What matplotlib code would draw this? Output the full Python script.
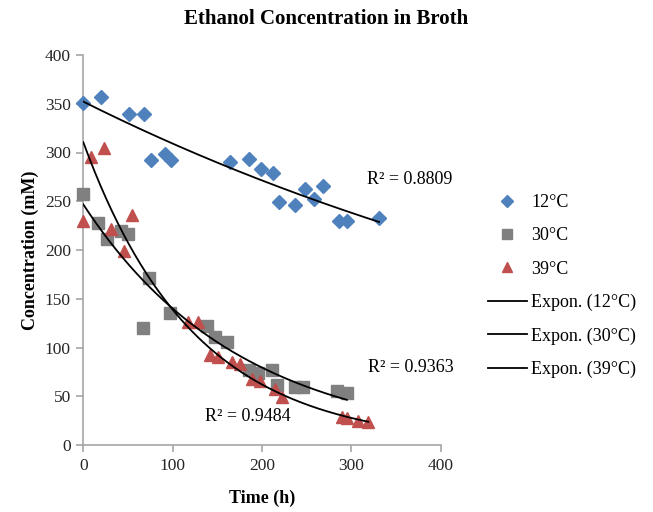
import numpy as np
import matplotlib
matplotlib.use("Agg")
import matplotlib.pyplot as plt
from matplotlib.lines import Line2D

plt.rcParams['font.family'] = ['Liberation Serif', 'DejaVu Serif']

# 12 °C
t12 = [0, 20, 51, 68, 75.5, 91.5, 98, 164, 185.6, 199, 212.4, 219, 237, 248, 258, 268, 286, 295, 331]
c12 = [351, 357, 340, 340, 292, 298.5, 292, 290, 293, 283, 279, 249, 246, 262.6, 252, 265.6, 230, 230, 233]
# 30 °C
t30 = [0, 17, 27, 42.5, 50, 74, 67, 97, 139, 147.5, 161, 186, 196, 211, 217, 237, 246, 284, 295]
c30 = [257, 228, 211, 219, 216, 171, 120, 135, 122, 111, 106, 77, 74, 77, 61.5, 60, 60, 55, 53]
# 39 °C
t39 = [0, 9, 23.5, 31, 45.6, 55, 117.6, 128.8, 142, 150.5, 166, 175.5, 188.6, 198, 214, 222, 289, 295, 308, 319]
c39 = [230, 295.7, 305, 222, 199.3, 236, 126.5, 126.5, 92.3, 90.6, 85.4, 83, 67.4, 65.6, 57, 49.6, 29, 27.4, 24.6, 24]

series_labels = ['12°C', '30°C', '39°C']
trend_labels = ['Expon. (12°C)', 'Expon. (30°C)', 'Expon. (39°C)']
r2_texts = ['R² = 0.8809', 'R² = 0.9363', 'R² = 0.9484']

colors = ['#4F81BD', '#808080', '#C0504D']
markers = ['D', 's', '^']
msizes = [7.5, 8, 9]

fig = plt.figure(figsize=(6.53, 5.12), dpi=100)
ax = fig.add_axes([83.3/653, 1-445/512, (440.7-83.3)/653, (445-55)/512])

handles = []
for t, c, col, m, ms, lab in zip([t12, t30, t39], [c12, c30, c39], colors, markers, msizes, series_labels):
    ax.plot(t, c, linestyle='none', marker=m, ms=ms, color=col, mec=col, zorder=3, clip_on=False)
    handles.append(Line2D([], [], linestyle='none', marker=m, ms=ms*0.85, color=col, mec=col, label=lab))

for t, c, lab in zip([t12, t30, t39], [c12, c30, c39], trend_labels):
    t = np.asarray(t, float); c = np.asarray(c, float)
    b, lna = np.polyfit(t, np.log(c), 1)
    tt = np.linspace(t.min(), t.max(), 200)
    ax.plot(tt, np.exp(lna) * np.exp(b * tt), color='black', lw=1.3, zorder=4)
    handles.append(Line2D([], [], color='black', lw=1.3, label=lab))

ax.text(318, 272, r2_texts[0], fontsize=13, va='center', ha='left')
ax.text(319, 79, r2_texts[1], fontsize=13, va='center', ha='left')
ax.text(136, 29, r2_texts[2], fontsize=13, va='center', ha='left')

ax.set_xlim(0, 400)
ax.set_ylim(0, 400)
ax.set_xticks(range(0, 401, 100))
ax.set_yticks(range(0, 401, 50))
for s in ['top', 'right']:
    ax.spines[s].set_visible(False)
for s in ['left', 'bottom']:
    ax.spines[s].set_color('#A6A6A6')
    ax.spines[s].set_linewidth(1.2)
ax.tick_params(axis='both', direction='out', length=5, width=1.2, color='#A6A6A6',
               labelsize=12.5, labelcolor='#262626', pad=4)

ax.set_xlabel('Time (h)', fontsize=13, fontweight='bold', labelpad=12)
ax.set_ylabel('Concentration (mM)', fontsize=13, fontweight='bold', labelpad=4)
fig.text(0.5, 0.962, 'Ethanol Concentration in Broth', fontsize=15, fontweight='bold',
         ha='center', va='center')

fig.legend(handles=handles, loc='upper left', bbox_to_anchor=(479/653, 1-185/512),
           frameon=False, fontsize=13, handlelength=2.15, handletextpad=0.25,
           labelspacing=0.9, borderpad=0)

fig.savefig('out.png', dpi=100)
